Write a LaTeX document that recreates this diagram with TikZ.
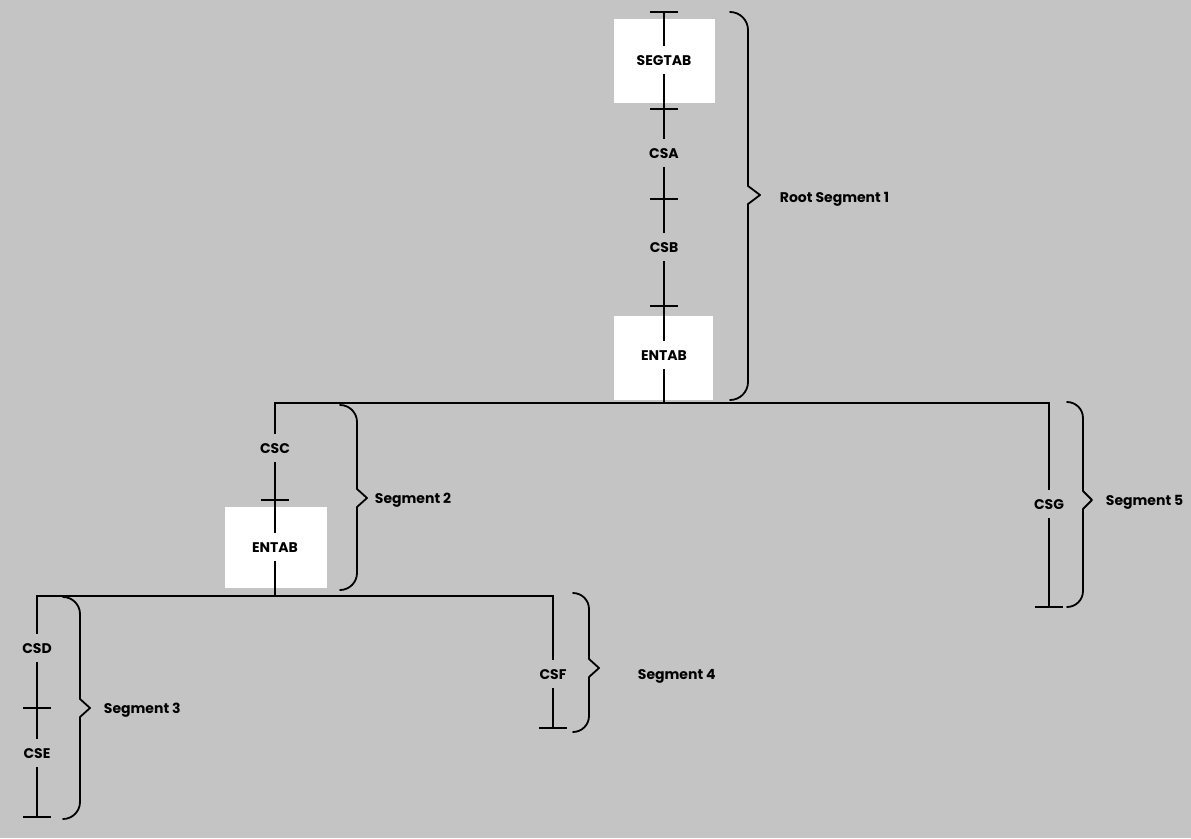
\documentclass[tikz,border=0pt]{standalone}
\usepackage{fontspec}
\setmainfont{Poppins}
\definecolor{paper}{RGB}{196,196,196}
\newcommand\segbrace[6]{%
  \draw[bracestyle] (#1,#3) .. controls ({#1+0.55*(#2-#1)},#3) and (#2,{#3+0.45*(#2-#1)}) .. (#2,{#3+(#2-#1)})
    -- (#2,{#6-9}) -- (#5,#6) -- (#2,{#6+9})
    -- (#2,{#4-(#2-#1)}) .. controls (#2,{#4-0.45*(#2-#1)}) and ({#1+0.55*(#2-#1)},#4) .. (#1,#4);}
\begin{document}
\begin{tikzpicture}[x=1pt,y=-1pt,line width=1.8pt,
  txt/.style={font=\bfseries\fontsize{14}{14}\selectfont, text height=10pt, text depth=0pt},
  lbl/.style={txt, fill=paper, inner xsep=1pt, inner ysep=9pt},
  boxlbl/.style={txt, fill=white, inner xsep=1pt, inner ysep=9pt},
  seglbl/.style={txt, anchor=west, inner sep=0pt},
  wbox/.style={fill=white, draw=none, inner sep=0pt},
  bracestyle/.style={line width=1.8pt, line cap=round, line join=round}]
\fill[paper] (0,0) rectangle (1191,838);
\useasboundingbox (0,0) rectangle (1191,838);
% white boxes
\node[wbox, minimum width=101pt, minimum height=84pt] (segbox) at (664.5,61) {};
\node[wbox, minimum width=99pt, minimum height=84pt] (entbox1) at (663.5,358) {};
\node[wbox, minimum width=102pt, minimum height=81pt] (entbox2) at (276,547.5) {};
% tree points
\coordinate (r0) at (664,12);
\coordinate (r1) at (664,109);
\coordinate (r2) at (664,199);
\coordinate (r3) at (664,306);
\coordinate (rj) at (664,403);
\coordinate (hl) at (275,403);
\coordinate (hr) at (1049,403);
\coordinate (g1) at (1049,607);
\coordinate (c1) at (275,500);
\coordinate (cj) at (275,596);
\coordinate (hl2) at (37,596);
\coordinate (hr2) at (553,596);
\coordinate (d1) at (37,708);
\coordinate (d2) at (37,817);
\coordinate (f1) at (553,728);
% lines
\draw (r0) -- (rj);
\draw (g1) -- (hr) -- (hl) -- (cj);
\draw (f1) -- (hr2) -- (hl2) -- (d2);
\foreach \p in {r0,r1,r2,r3,c1,d1,d2,f1,g1}
  \draw ([xshift=-14pt]\p) -- ([xshift=14pt]\p);
% labels on lines
\node[boxlbl] (segtab) at (664,60) {SEGTAB};
\node[lbl] (csa) at (664,153) {CSA};
\node[lbl] (csb) at (664,247) {CSB};
\node[boxlbl] (entab1) at (664,355) {ENTAB};
\node[lbl] (csc) at (275,448) {CSC};
\node[boxlbl] (entab2) at (275,547) {ENTAB};
\node[lbl] (csd) at (37,648) {CSD};
\node[lbl] (cse) at (37,753) {CSE};
\node[lbl] (csf) at (553,674) {CSF};
\node[lbl] (csg) at (1049,504) {CSG};
% braces
\segbrace{730}{748}{12}{400}{760}{195}
\segbrace{340}{357}{405}{590}{367}{498}
\segbrace{1067}{1083}{402}{607}{1092}{500}
\segbrace{573}{589}{593}{732}{599}{668}
\segbrace{63}{80}{597}{819}{90}{708}
% segment labels
\node[seglbl] (seg1) at (779,197) {Root Segment 1};
\node[seglbl] (seg2) at (374,498) {Segment 2};
\node[seglbl] (seg5) at (1105,500) {Segment 5};
\node[seglbl] (seg4) at (637,674) {Segment 4};
\node[seglbl] (seg3) at (103,708) {Segment 3};
\end{tikzpicture}
\end{document}
